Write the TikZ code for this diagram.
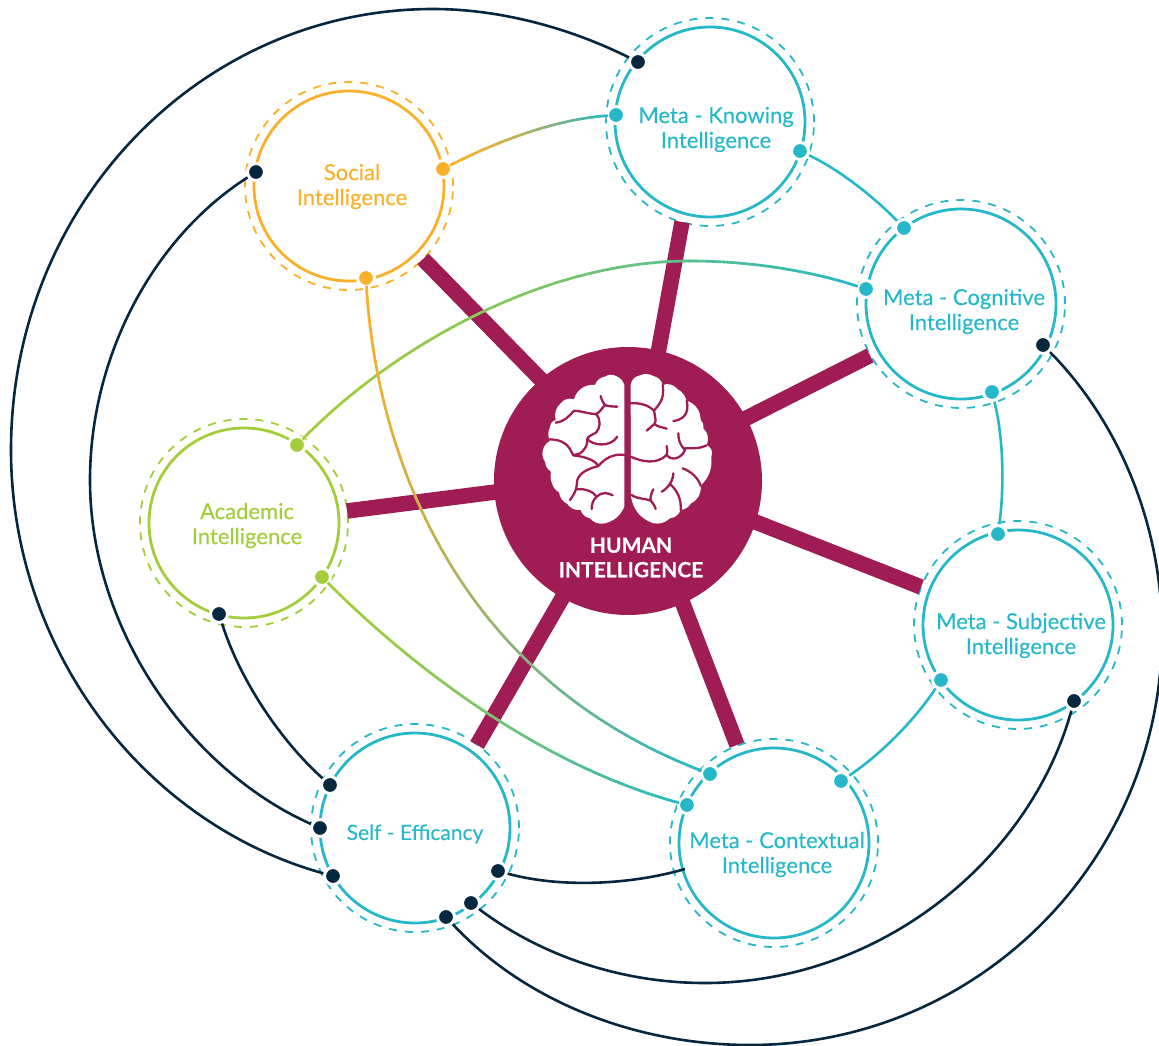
\documentclass[tikz,border=0pt]{standalone}
\usepackage{fontspec}
\setmainfont[FakeBold=0.25]{Lato}
\usetikzlibrary{decorations.markings}
\definecolor{plum}{HTML}{A01C55}
\definecolor{tealc}{HTML}{26B8C8}
\definecolor{orangec}{HTML}{F9B02A}
\definecolor{greenc}{HTML}{A3CD3B}
\definecolor{navyc}{HTML}{05273F}
\tikzset{
  ring/.style={circle,draw=#1,line width=2.8pt,minimum size=190pt,inner sep=0pt},
  halo/.style={circle,draw=#1,line width=1.8pt,minimum size=208pt,inner sep=0pt,dash pattern=on 8pt off 8pt},
  dotn/.style={circle,fill=#1,draw=white,line width=3pt,minimum size=17pt,inner sep=0pt},
  lbl/.style={text=#1,font=\fontsize{22}{25}\selectfont,align=center,inner sep=0pt},
  spoke/.style={draw=plum,line width=15.5pt},
  conn/.style={draw=#1,line width=2.6pt},
  gradline/.style n args={2}{
    decoration={markings,mark=between positions 0 and 1 step 3pt with {
      \pgfmathsetmacro\fr{\pgfkeysvalueof{/pgf/decoration/mark info/distance from start}/\pgfdecoratedpathlength}
      \pgfmathsetmacro\pct{100*\fr*sqrt(\fr)}
      \draw[line width=2.6pt,color={#2!\pct!#1}] (-2.2pt,0pt) -- (2.2pt,0pt);
    }},postaction={decorate}},
  sulcus/.style={draw=plum,line width=2.3pt,line cap=round,line join=round},
}
\begin{document}
\begin{tikzpicture}[x=1pt,y=-1pt]
\useasboundingbox (0,0) rectangle (1159,1046);
% rings
\foreach \n/\x/\y/\c in {social/349/186/orangec,know/710/122/tealc,cog/961/304/tealc,acad/244/523/greenc,self/415/828/tealc,subj/1018/625/tealc,cont/774/843/tealc}{
  \node[halo=\c] (\n h) at (\x,\y) {};
  \node[ring=\c] (\n) at (\x,\y) {};
}
% spokes: inner coordinate lies just inside the hub
\coordinate (sA) at (423,259);  \coordinate (hA) at (555,394);
\coordinate (sB) at (682,222);  \coordinate (hB) at (655,370);
\coordinate (sC) at (870,355.5);\coordinate (hC) at (725,429);
\coordinate (sD) at (921,587);  \coordinate (hD) at (730,512);
\coordinate (sE) at (737,745);  \coordinate (hE) at (675,583);
\coordinate (sF) at (477,745);  \coordinate (hF) at (575,576);
\coordinate (sG) at (347,511);  \coordinate (hG) at (515,489.5);
\foreach \e/\h in {sA/hA,sB/hB,sC/hC,sD/hD,sE/hE,sF/hF,sG/hG}{ \draw[spoke] (\h) -- (\e); }
\node[circle,fill=plum,minimum size=268pt,inner sep=0pt] (hub) at (628,481) {};
% dots
\foreach \n/\x/\y in {na/638/62,nb/256/172,nc/1043/345,nd/330/785,ne/320/828,nf/333/876,ng/498/871,nh/471/903,ni/446/917,nj/219/614,nk/1074/701}{
  \node[dotn=navyc] (\n) at (\x,\y) {};
}
\foreach \n/\x/\y in {ta/616/115,tb/800/151,tc/904/228,td/866/289,te/992/392,tf/998/534,tg/941/680,th/841/781,ti/710/774,tj/687/805}{
  \node[dotn=tealc] (\n) at (\x,\y) {};
}
\node[dotn=orangec] (oa) at (443,169) {};
\node[dotn=orangec] (ob) at (366,278) {};
\node[dotn=greenc] (ga) at (297,445) {};
\node[dotn=greenc] (gb) at (322,577) {};
\coordinate (contw) at (685,869);
% navy connectors
\draw[conn=navyc] (na) .. controls (570,28) and (500,9) .. (433,9) .. controls (200,9) and (11,205) .. (11,450) .. controls (11,648) and (142,823) .. (nf);
\draw[conn=navyc] (nb) .. controls (150,240) and (90,360) .. (90,480) .. controls (90,630) and (190,770) .. (ne);
\draw[conn=navyc] (nj) .. controls (240,680) and (280,740) .. (nd);
\draw[conn=navyc] (ng) .. controls (560,888) and (630,885) .. (contw);
\draw[conn=navyc] (nh) .. controls (540,955) and (620,983) .. (705,983) .. controls (880,983) and (1030,860) .. (nk);
\draw[conn=navyc] (ni) .. controls (524.5,1001) and (635,1045) .. (750,1045) .. controls (977.5,1045) and (1162,860.5) .. (1162,633) .. controls (1162,525) and (1119,422) .. (nc);
% teal connectors
\draw[conn=tealc] (tb) .. controls (840,170) and (875,198) .. (tc);
\draw[conn=tealc] (te) .. controls (1004,440) and (1004,490) .. (tf);
\draw[conn=tealc] (tg) .. controls (915,720) and (880,755) .. (th);
% gradient connectors
\path[gradline={orangec}{tealc}] (oa) .. controls (490,145) and (550,120) .. (ta);
\path[gradline={greenc}{tealc}] (ga) .. controls (390,350) and (540,261) .. (690,261) .. controls (760,261) and (820,274) .. (td);
\path[gradline={greenc}{tealc}] (gb) .. controls (400,655) and (530,762) .. (tj);
\path[gradline={orangec}{tealc}] (ob) .. controls (375,430) and (440,670) .. (ti);
% labels
\node[lbl=orangec] (lsocial) at (352,186.5) {Social\\Intelligence};
\node[lbl=tealc] (lknow) at (716,129.5) {Meta - Knowing\\Intelligence};
\node[lbl=tealc] (lcog) at (964,311.5) {Meta - Cognitive\\Intelligence};
\node[lbl=greenc] (lacad) at (247,525.5) {Academic\\Intelligence};
\node[lbl=tealc,font=\fontsize{21}{25}\selectfont] (lself) at (415,834) {Self - Efficancy};
\node[lbl=tealc] (lsubj) at (1021,635.5) {Meta - Subjective\\Intelligence};
\node[lbl=tealc] (lcont) at (777,854.5) {Meta - Contextual\\Intelligence};
\node[text=white,font=\fontsize{21}{24.5}\selectfont\bfseries,align=center,inner sep=0pt] (lhub) at (631,557.5) {HUMAN\\INTELLIGENCE};
% brain
\begin{scope}[shift={(490,340)},x=0.3333pt,y=-0.3333pt]
\fill[white] (403,135) to[bend right=25] (378,108) to[bend right=30] (345,110) to[bend right=30] (315,135)
 to[bend right=40] (252,178) to[bend right=35] (212,190) to[bend right=30] (197,240) to[bend right=35] (180,262) to[bend right=25] (180,303)
 to[bend right=50] (165,365) to[bend right=25] (183,395) to[bend right=15] (186,430) to[bend right=20] (207,457) to[bend right=25] (232,492)
 to[bend right=30] (272,510) to[bend right=30] (300,535) to[bend right=30] (345,550) to[bend right=25] (403,500) -- cycle;
\fill[white] (422,135) to[bend left=35] (450,106) to[bend left=25] (490,108) to[bend left=30] (518,135)
 to[bend left=35] (562,147) to[bend left=20] (590,182) to[bend left=35] (632,240) to[bend left=30] (640,265) to[bend left=35] (650,315)
 to[bend left=45] (664,350) to[bend left=25] (632,437) to[bend left=35] (603,490) to[bend left=25] (572,510) to[bend left=30] (540,535)
 to[bend left=25] (490,550) to[bend left=30] (423,470) -- cycle;
\draw[sulcus] (382,200) .. controls (365,200) and (350,198) .. (345,195) .. controls (340,190) and (335,180) .. (332,168);
\draw[sulcus] (345,195) .. controls (335,205) and (330,218) .. (318,222) .. controls (295,222) and (270,212) .. (252,212) .. controls (240,225) and (225,245) .. (197,248);
\draw[sulcus] (318,222) .. controls (335,240) and (330,265) .. (318,278) .. controls (305,285) and (295,288) .. (292,297) .. controls (295,315) and (280,335) .. (270,340) -- (250,346) .. controls (240,330) and (235,300) .. (180,298);
\draw[sulcus] (292,297) .. controls (305,315) and (360,325) .. (382,290);
\draw[sulcus] (404,345) .. controls (370,340) and (345,355) .. (325,378) .. controls (315,360) and (285,350) .. (250,346);
\draw[sulcus] (325,378) .. controls (300,385) and (270,395) .. (262,420) .. controls (258,440) and (265,445) .. (240,480);
\draw[sulcus] (262,448) .. controls (285,445) and (310,455) .. (320,470) .. controls (310,480) and (305,490) .. (305,507);
\draw[sulcus] (320,470) .. controls (335,455) and (355,458) .. (368,466);
\draw[sulcus] (422,190) .. controls (450,188) and (475,195) .. (492,212) .. controls (505,195) and (525,180) .. (518,135);
\draw[sulcus] (492,212) .. controls (495,230) and (500,245) .. (493,252) .. controls (485,260) and (478,265) .. (470,272);
\draw[sulcus] (493,252) .. controls (505,262) and (520,262) .. (530,266);
\draw[sulcus] (550,243) .. controls (575,240) and (600,225) .. (590,182);
\draw[sulcus] (422,350) .. controls (455,365) and (500,375) .. (530,345) .. controls (533,335) and (532,325) .. (530,318);
\draw[sulcus] (530,345) .. controls (545,365) and (575,355) .. (585,330) .. controls (570,315) and (565,300) .. (565,280);
\draw[sulcus] (585,325) .. controls (610,325) and (635,325) .. (650,316);
\draw[sulcus] (578,385) .. controls (605,395) and (625,415) .. (632,437);
\draw[sulcus] (550,400) .. controls (550,420) and (535,445) .. (515,455);
\draw[sulcus] (540,432) .. controls (560,450) and (575,475) .. (572,510);
\draw[sulcus] (424,465) .. controls (445,478) and (465,475) .. (482,482) .. controls (490,490) and (495,500) .. (497,507);
\draw[sulcus] (482,482) .. controls (480,470) and (485,458) .. (490,448);
\end{scope}
\end{tikzpicture}
\end{document}
